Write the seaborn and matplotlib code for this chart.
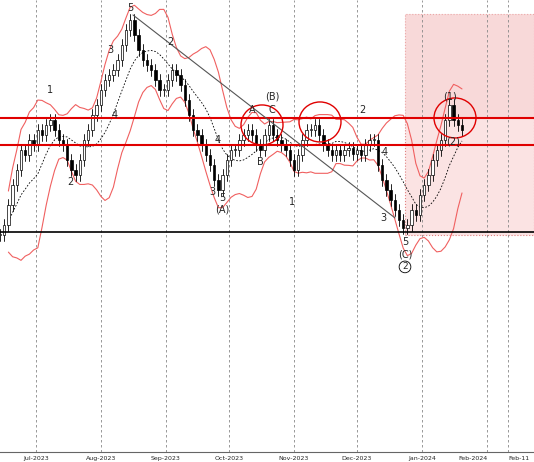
import numpy as np, pandas as pd, matplotlib
matplotlib.use("Agg")
import matplotlib.pyplot as plt, matplotlib.dates as mdates
import seaborn as sns
from matplotlib.patches import Rectangle, Ellipse

closes = [225,235,255,275,290,310,305,320,315,330,325,335,340,330,320,315,300,290,285,300,
          320,330,345,355,370,380,385,390,400,415,430,440,425,410,400,395,390,380,370,370,
          380,390,385,375,360,345,330,325,315,305,295,280,270,285,300,310,310,320,325,330,
          325,315,310,325,335,325,320,315,310,300,290,305,320,330,330,335,325,315,310,305,
          310,305,310,312,306,310,305,315,320,320,295,280,270,260,250,240,232,235,250,245,
          265,275,285,300,310,320,340,355,340,335,330]
start = pd.Timestamp("2023-06-14")
dates = pd.date_range(start, periods=len(closes), freq="2D")
df = pd.DataFrame({"date": dates, "close": closes})
df["open"] = df["close"].shift(1).fillna(df["close"])
ma = df["close"].rolling(10, min_periods=3).mean()
sd = df["close"].rolling(10, min_periods=3).std()
df["ma"], df["up"], df["lo"] = ma, ma + 2*sd, ma - 2*sd

sns.set_style("white")
fig = plt.figure(figsize=(5.34, 4.62), dpi=100)
ax = fig.add_axes([0, 0.022, 1, 0.978])
def X(px): return mdates.date2num(start + pd.Timedelta(days=px/2.1))
def Y(py): return 460 - py

ax.add_patch(Rectangle((X(405), Y(235)), X(534)-X(405), 221, fc="#fbe3e3", ec="#e08080", ls=":", lw=0.8, zorder=0))
ax.add_patch(Rectangle((X(405), Y(118)), X(534)-X(405), 104, fc="#f6d0d0", ec="none", alpha=0.5, zorder=0))

sns.lineplot(data=df, x="date", y="up", color="#f06060", lw=0.8, ax=ax)
sns.lineplot(data=df, x="date", y="lo", color="#f06060", lw=0.8, ax=ax)
sns.lineplot(data=df, x="date", y="ma", color="black", lw=0.6, ls=(0,(2,2)), ax=ax)

for d, o, c in zip(df["date"], df["open"], df["close"]):
    xn = mdates.date2num(d)
    hi, lo = max(o, c) + 6, min(o, c) - 6
    ax.plot([xn, xn], [lo, hi], color="black", lw=0.6, zorder=3)
    ax.add_patch(Rectangle((xn-0.6, min(o, c)), 1.2, max(abs(c-o), 0.8),
                 fc="white" if c >= o else "black", ec="black", lw=0.5, zorder=4))

ax.axhline(Y(118), color="#e00000", lw=1.5, zorder=5)
ax.axhline(Y(145), color="#e00000", lw=1.5, zorder=5)
ax.axhline(Y(232), color="black", lw=1.2, zorder=5)
ax.plot([X(133), X(395)], [Y(15), Y(218)], color="#555555", lw=0.8, zorder=5)
for cx, cy in [(262,125),(320,122),(455,118)]:
    ax.add_patch(Ellipse((X(cx), Y(cy)), X(cx+21)-X(cx-21), 40, fc="none", ec="#e00000", lw=1, zorder=6))

labels = [("5",130,8),("3",110,50),("2",170,42),("4",115,115),("1",50,90),("2",70,182),("4",218,140),
          ("3",212,192),("5",222,198),("(A)",222,210),("(B)",272,97),("A",252,110),("C",272,110),("B",260,162),
          ("1",292,202),("2",362,110),("4",385,152),("3",383,218),("5",405,242),("(C)",405,255),("(1)",450,97),("(2)",453,142)]
for t, px, py in labels:
    ax.text(X(px), Y(py), t, fontsize=7, ha="center", va="center", zorder=7)
ax.text(X(405), Y(267), "2", fontsize=6.5, ha="center", va="center",
        bbox=dict(boxstyle="circle,pad=0.15", fc="white", ec="black", lw=0.6), zorder=7)

ticks = [pd.Timestamp(s) for s in ["2023-07-01","2023-08-01","2023-09-01","2023-10-01","2023-11-01","2023-12-01","2024-01-01","2024-02-01"]]
for t in ticks + [pd.Timestamp("2024-02-11")]:
    ax.axvline(t, color="#888888", lw=0.6, ls=(0,(3,3)), zorder=1)
ax.set_xticks(ticks + [pd.Timestamp("2024-02-11")])
tl = ax.set_xticklabels([t.strftime("%b-%Y") for t in ticks] + ["Feb-11"], fontsize=4.5)
tl[-1].set_ha("left"); tl[-2].set_ha("right")
ax.tick_params(axis="x", pad=1, length=2)
ax.set_yticks([])
ax.set_xlim(X(0), X(534)); ax.set_ylim(Y(452), Y(0))
ax.set_xlabel(""); ax.set_ylabel("")
for s in ax.spines.values(): s.set_visible(False)
ax.spines["bottom"].set_visible(True); ax.spines["bottom"].set_color("#666666")
fig.savefig("out.png", dpi=100)
